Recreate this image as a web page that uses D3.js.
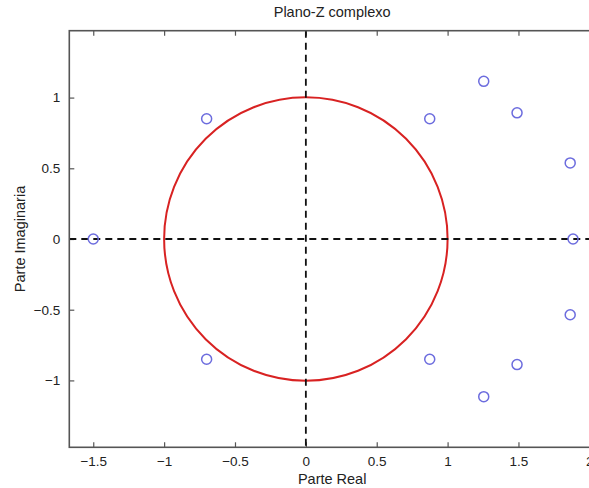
<!DOCTYPE html>
<html>
<head>
<meta charset="utf-8">
<script src="https://cdn.jsdelivr.net/npm/d3@7"></script>
<style>
  body { margin: 0; background: #fff; overflow: hidden; }
  text { font-family: "Liberation Sans", Arial, Helvetica, sans-serif; fill: #222; }
</style>
</head>
<body>
<script>
const WIDTH = 589;
const HEIGHT = 488;

// zeros of the filter (real, imag), conjugate pairs included
const zeroRe = [-1.5, -0.70, -0.70, 0.874, 0.874, 1.255, 1.255, 1.49, 1.49, 1.865, 1.865, 1.885];
const zeroIm = [0, 0.85, -0.85, 0.85, -0.85, 1.115, -1.115, 0.892, -0.888, 0.538, -0.536, 0];

const xTicks = [-1.5, -1, -0.5, 0, 0.5, 1, 1.5, 2];
const yTicks = [-1, -0.5, 0, 0.5, 1];
const xDomain = [-1.669, 2.04];
const yDomain = [-1.473, 1.473];
const unitRadius = 1;

const box = { left: 69.3, right: 595, top: 30.7, bottom: 447.3 };

const x = d3.scaleLinear().domain(xDomain).range([box.left, box.right]);
const y = d3.scaleLinear().domain(yDomain).range([box.bottom, box.top]);

const svg = d3.select("body").append("svg")
    .attr("width", WIDTH)
    .attr("height", HEIGHT);

svg.append("rect").attr("width", WIDTH).attr("height", HEIGHT).attr("fill", "#fff");

const fmt = d => (d < 0 ? "\u2212" : "") + Math.abs(d);

// axes with inward ticks
const tick = 5;
svg.append("g")
    .attr("transform", `translate(0,${box.bottom})`)
    .call(d3.axisBottom(x).tickValues(xTicks).tickSizeInner(-tick).tickSizeOuter(0).tickPadding(9).tickFormat(fmt))
    .call(g => g.select(".domain").remove());
svg.append("g")
    .attr("transform", `translate(0,${box.top})`)
    .call(d3.axisTop(x).tickValues(xTicks).tickSizeInner(-tick).tickSizeOuter(0).tickFormat(""))
    .call(g => g.select(".domain").remove());
svg.append("g")
    .attr("transform", `translate(${box.left},0)`)
    .call(d3.axisLeft(y).tickValues(yTicks).tickSizeInner(-tick).tickSizeOuter(0).tickPadding(9).tickFormat(fmt))
    .call(g => g.select(".domain").remove());
svg.append("g")
    .attr("transform", `translate(${box.right},0)`)
    .call(d3.axisRight(y).tickValues(yTicks).tickSizeInner(-tick).tickSizeOuter(0).tickFormat(""))
    .call(g => g.select(".domain").remove());

svg.selectAll(".tick line").attr("stroke", "#555").attr("stroke-width", 1.2);
svg.selectAll(".tick text").style("font-size", "13.5px").attr("fill", "#222");

// unit circle
svg.append("circle")
    .attr("cx", x(0))
    .attr("cy", y(0))
    .attr("r", x(unitRadius) - x(0))
    .attr("fill", "none")
    .attr("stroke", "#d82222")
    .attr("stroke-width", 2);

// dashed real / imaginary axes
svg.append("line")
    .attr("x1", box.left).attr("x2", box.right)
    .attr("y1", y(0)).attr("y2", y(0))
    .attr("stroke", "#111").attr("stroke-width", 1.8).attr("stroke-dasharray", "7,5");
svg.append("line")
    .attr("x1", x(0)).attr("x2", x(0))
    .attr("y1", box.top).attr("y2", box.bottom)
    .attr("stroke", "#111").attr("stroke-width", 1.8).attr("stroke-dasharray", "7,5");

// zeros
svg.append("g").selectAll("circle")
    .data(zeroRe.map((re, i) => ({ re: re, im: zeroIm[i] })))
    .join("circle")
    .attr("cx", d => x(d.re))
    .attr("cy", d => y(d.im))
    .attr("r", 5)
    .attr("fill", "none")
    .attr("stroke", "#6c6cde")
    .attr("stroke-width", 1.5);

// frame
svg.append("rect")
    .attr("x", box.left).attr("y", box.top)
    .attr("width", box.right - box.left).attr("height", box.bottom - box.top)
    .attr("fill", "none").attr("stroke", "#555").attr("stroke-width", 1.6);

// labels
const midX = (box.left + box.right) / 2;
svg.append("text").attr("x", midX).attr("y", 17)
    .attr("text-anchor", "middle").style("font-size", "14.5px").text("Plano-Z complexo");
svg.append("text").attr("x", midX).attr("y", 484)
    .attr("text-anchor", "middle").style("font-size", "14.5px").text("Parte Real");
svg.append("text")
    .attr("transform", `translate(25,${(box.top + box.bottom) / 2}) rotate(-90)`)
    .attr("text-anchor", "middle").style("font-size", "14.5px").text("Parte Imaginaria");
</script>
</body>
</html>
